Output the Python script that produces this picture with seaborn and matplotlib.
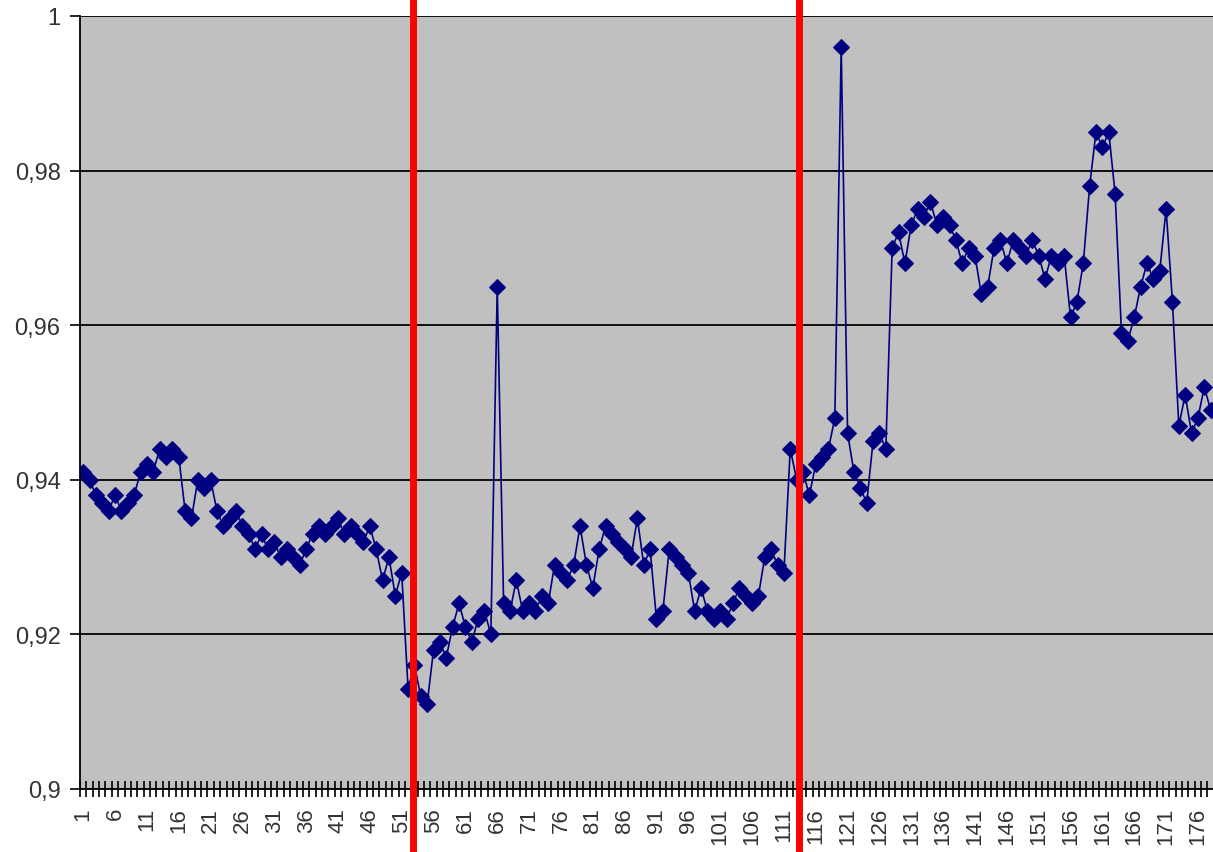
import pandas as pd
import seaborn as sns
import matplotlib.pyplot as plt
from matplotlib.ticker import FixedLocator, FuncFormatter

values = [
    0.941, 0.940, 0.938, 0.937, 0.936, 0.938, 0.936, 0.937, 0.938, 0.941,
    0.942, 0.941, 0.944, 0.943, 0.944, 0.943, 0.936, 0.935, 0.940, 0.939,
    0.940, 0.936, 0.934, 0.935, 0.936, 0.934, 0.933, 0.931, 0.933, 0.931,
    0.932, 0.930, 0.931, 0.930, 0.929, 0.931, 0.933, 0.934, 0.933, 0.934,
    0.935, 0.933, 0.934, 0.933, 0.932, 0.934, 0.931, 0.927, 0.930, 0.925,
    0.928, 0.913, 0.916, 0.912, 0.911, 0.918, 0.919, 0.917, 0.921, 0.924,
    0.921, 0.919, 0.922, 0.923, 0.920, 0.965, 0.924, 0.923, 0.927, 0.923,
    0.924, 0.923, 0.925, 0.924, 0.929, 0.928, 0.927, 0.929, 0.934, 0.929,
    0.926, 0.931, 0.934, 0.933, 0.932, 0.931, 0.930, 0.935, 0.929, 0.931,
    0.922, 0.923, 0.931, 0.930, 0.929, 0.928, 0.923, 0.926, 0.923, 0.922,
    0.923, 0.922, 0.924, 0.926, 0.925, 0.924, 0.925, 0.930, 0.931, 0.929,
    0.928, 0.944, 0.940, 0.941, 0.938, 0.942, 0.943, 0.944, 0.948, 0.996,
    0.946, 0.941, 0.939, 0.937, 0.945, 0.946, 0.944, 0.970, 0.972, 0.968,
    0.973, 0.975, 0.974, 0.976, 0.973, 0.974, 0.973, 0.971, 0.968, 0.970,
    0.969, 0.964, 0.965, 0.970, 0.971, 0.968, 0.971, 0.970, 0.969, 0.971,
    0.969, 0.966, 0.969, 0.968, 0.969, 0.961, 0.963, 0.968, 0.978, 0.985,
    0.983, 0.985, 0.977, 0.959, 0.958, 0.961, 0.965, 0.968, 0.966, 0.967,
    0.975, 0.963, 0.947, 0.951, 0.946, 0.948, 0.952, 0.949,
]
steps = list(range(1, len(values) + 1))
tick_steps = list(range(1, 177, 5))
y_ticks = [0.90, 0.92, 0.94, 0.96, 0.98, 1.00]
red_marks = [52.8, 113.4]

df = pd.DataFrame({"step": steps, "value": values})

plt.rcParams["font.family"] = ["Liberation Sans", "DejaVu Sans"]

W, H = 1213, 853
fig = plt.figure(figsize=(W / 100, H / 100), dpi=100)
ax = fig.add_axes([80 / W, 63 / H, 1133 / W, 773 / H])
ax.set_facecolor("#c0c0c0")

sns.lineplot(data=df, x="step", y="value", ax=ax, color="#000080",
             marker="D", markersize=8, markeredgecolor="#000080",
             linewidth=1.2)

ax.set_xlim(0.5, 0.5 + 1133 / 6.37)
ax.set_ylim(0.9, 1.0)

ax.set_yticks(y_ticks)
ax.yaxis.set_major_formatter(FuncFormatter(
    lambda v, p: f"{v:.2f}".rstrip("0").rstrip(".").replace(".", ",")))
ax.grid(axis="y", color="black", linewidth=1.3)
ax.set_axisbelow(True)

ax.set_xticks(tick_steps)
ax.set_xticklabels([str(s) for s in tick_steps], rotation=90)
ax.xaxis.set_minor_locator(FixedLocator([s + 0.5 for s in range(0, 180)]))
ax.tick_params(axis="x", which="major", length=0, pad=13, labelsize=16)
ax.tick_params(axis="x", which="minor", direction="inout", length=11,
               width=1.2, color="black")
ax.tick_params(axis="y", length=7, width=1.2, color="black", labelsize=17,
               pad=7, labelcolor="#333333")
ax.tick_params(axis="x", labelcolor="#333333")

for side in ["top", "right"]:
    ax.spines[side].set_visible(False)
for side in ["left", "bottom"]:
    ax.spines[side].set_color("black")
    ax.spines[side].set_linewidth(1.3)

ax.set_xlabel("")
ax.set_ylabel("")

for x in red_marks:
    ax.axvline(x, ymin=-63 / 773, ymax=1 + 17 / 773, color="#ff0000",
               linewidth=5, clip_on=False, zorder=5)

fig.savefig("out.png", dpi=100)
